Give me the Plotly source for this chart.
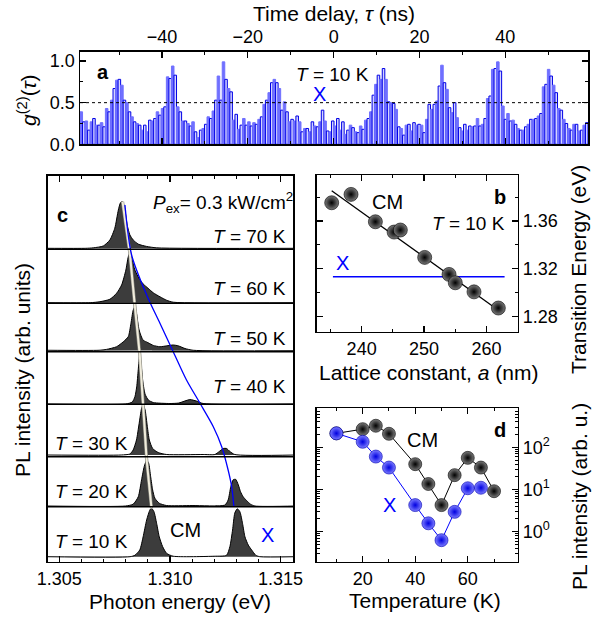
import numpy as np
import plotly.graph_objects as go

W, H = 592, 619
FONT = "Liberation Sans, Arial, sans-serif"
BLUE = "#0000ff"

# ---------------- Panel a : g2(tau) histogram ----------------
g2_values = [
    0.39, 0.27, 0.28, 0.17, 0.27, 0.31, 0.23, 0.23, 0.26, 0.21, 0.43, 0.39, 0.53, 0.67, 0.77, 0.78, 0.71, 0.53, 0.50, 0.39,
    0.33, 0.27, 0.25, 0.23, 0.17, 0.23, 0.15, 0.29, 0.28, 0.31, 0.39, 0.35, 0.43, 0.45, 0.81, 0.79, 0.94, 0.83,
    0.45, 0.39, 0.28, 0.28, 0.25, 0.22, 0.27, 0.15, 0.08, 0.17, 0.19, 0.24, 0.33, 0.31, 0.40, 0.53, 0.82, 0.53, 0.99, 0.78,
    0.67, 0.63, 0.29, 0.36, 0.18, 0.23, 0.31, 0.23, 0.27, 0.22, 0.26, 0.24, 0.30, 0.33, 0.48, 0.53, 0.62, 0.74, 0.78, 0.74,
    0.67, 0.41, 0.51, 0.39,
    0.27, 0.30, 0.28, 0.34, 0.27, 0.15, 0.19, 0.19, 0.15, 0.27, 0.22, 0.21, 0.27, 0.41, 0.28, 0.16, 0.15, 0.28, 0.22, 0.31,
    0.17, 0.27, 0.12, 0.17, 0.23, 0.20, 0.15, 0.14, 0.22, 0.18, 0.29, 0.31, 0.39, 0.59, 0.72, 0.83, 0.78, 0.91, 0.78, 0.51,
    0.50, 0.49, 0.42, 0.21, 0.19,
    0.11, 0.23, 0.24, 0.16, 0.26, 0.23, 0.24, 0.23, 0.14, 0.30, 0.48, 0.42, 0.48, 0.52, 0.70, 0.95, 0.74, 0.66, 0.44, 0.38,
    0.50, 0.32, 0.20, 0.16, 0.24, 0.17, 0.22, 0.21, 0.22, 0.31, 0.22, 0.24, 0.31, 0.55, 0.58, 0.90, 0.91, 0.99, 0.88, 0.46,
    0.30, 0.37, 0.28, 0.29, 0.24, 0.19, 0.17, 0.17,
    0.21, 0.24, 0.30, 0.30, 0.31, 0.34, 0.37, 0.69, 0.72, 0.90, 0.82, 0.71, 0.62, 0.43, 0.41, 0.30, 0.25, 0.19, 0.17, 0.24,
    0.24, 0.16, 0.17, 0.23, 0.26,
]
tau_start, tau_end = -59.1, 59.25

# ---------------- Panel b : transition energy vs lattice constant ----------------
lattice_a = [235.2, 238.3, 242.2, 245.2, 246.2, 250.1, 254.0, 255.0, 258.0, 261.9]
cm_energy = [1.3753, 1.3823, 1.3594, 1.3508, 1.3525, 1.3296, 1.3154, 1.3084, 1.3008, 1.2873]
fit_a = [235.2, 261.9]
fit_E = [1.3854, 1.2855]
x_line_a = [235.4, 262.9]
x_line_E = [1.3134, 1.3134]

# ---------------- Panel d : PL intensity vs temperature ----------------
T_cm = [10, 20, 25, 30, 40, 45, 50, 55, 60, 65, 70]
I_cm = [214, 269, 324, 209, 39.8, 13.5, 4.27, 21.9, 56.2, 33.1, 9.1]
T_x = [10, 20, 25, 30, 40, 45, 50, 55, 60, 65]
I_x = [214, 135, 60.3, 33.1, 4.27, 1.58, 0.63, 2.95, 10.7, 11.0]

# ---------------- Panel c : PL spectra (normalised) ----------------
spec_T = [10, 20, 30, 40, 50, 60, 70]
E10 = [1.3044, 1.3082, 1.30842, 1.30864, 1.30879, 1.30895, 1.30910, 1.30917, 1.30928, 1.30940, 1.30952, 1.30967,
       1.30985, 1.31015, 1.3120, 1.31256, 1.31271, 1.31283, 1.31293, 1.31304, 1.31316, 1.31328, 1.31339, 1.31354,
       1.31369, 1.31388, 1.31406, 1.3157]
I10 = [0, 0, 0.03, 0.14, 0.41, 0.76, 0.97, 1.0, 0.93, 0.69, 0.41, 0.21, 0.07, 0.01, 0.01, 0.03, 0.21, 0.55, 0.9,
       0.99, 0.93, 0.69, 0.41, 0.24, 0.14, 0.03, 0, 0]
E20 = [1.3044, 1.3080, 1.30834, 1.30857, 1.30872, 1.30884, 1.30895, 1.30904, 1.30913, 1.30922, 1.30932, 1.30952,
       1.30985, 1.3110, 1.31248, 1.31263, 1.31275, 1.31286, 1.31297, 1.31309, 1.31319, 1.31331, 1.31346, 1.31364,
       1.31384, 1.3157]
I20 = [0, 0, 0.04, 0.2, 0.57, 0.86, 0.99, 0.93, 0.64, 0.35, 0.17, 0.06, 0.01, 0.01, 0.02, 0.13, 0.42, 0.57, 0.58,
       0.46, 0.31, 0.2, 0.12, 0.04, 0, 0]
E30 = [1.3044, 1.3078, 1.30819, 1.30834, 1.30849, 1.30861, 1.30872, 1.30879, 1.30888, 1.30898, 1.30907, 1.30922,
       1.30947, 1.30985, 1.3115, 1.31203, 1.31223, 1.31241, 1.31256, 1.31271, 1.31293, 1.3157]
I30 = [0, 0, 0.02, 0.1, 0.3, 0.63, 0.93, 1.0, 0.9, 0.57, 0.3, 0.13, 0.05, 0.01, 0.01, 0.01, 0.07, 0.13, 0.13,
       0.07, 0.01, 0]
E40 = [1.3044, 1.3080, 1.30830, 1.30842, 1.30850, 1.30857, 1.30864, 1.30871, 1.30878, 1.30888, 1.30903, 1.30925,
       1.3100, 1.3104, 1.3109, 1.3112, 1.3115, 1.3157]
I40 = [0, 0, 0.04, 0.15, 0.35, 0.7, 1.0, 0.75, 0.45, 0.2, 0.08, 0.03, 0.01, 0.02, 0.09, 0.06, 0.01, 0]
E50 = [1.3044, 1.3068, 1.30714, 1.30759, 1.30789, 1.30812, 1.30824, 1.30834, 1.30842, 1.30849, 1.30861, 1.30879,
       1.30902, 1.30925, 1.30955, 1.30985, 1.31015, 1.31038, 1.31068, 1.31105, 1.3157]
I50 = [0.01, 0.01, 0.03, 0.09, 0.2, 0.32, 0.62, 0.92, 1.0, 0.85, 0.47, 0.24, 0.18, 0.12, 0.09, 0.11, 0.13, 0.11,
       0.05, 0.01, 0]
E60 = [1.3044, 1.3064, 1.30684, 1.30729, 1.30759, 1.30782, 1.30801, 1.30812, 1.30819, 1.30828, 1.30842, 1.30861,
       1.30879, 1.30902, 1.30925, 1.30955, 1.30985, 1.31015, 1.3157]
I60 = [0, 0, 0.02, 0.07, 0.19, 0.36, 0.66, 0.93, 1.0, 0.9, 0.66, 0.49, 0.38, 0.29, 0.2, 0.12, 0.05, 0.01, 0]
E70 = [1.3044, 1.3062, 1.30654, 1.30699, 1.30729, 1.30751, 1.30767, 1.30777, 1.30786, 1.30797, 1.30807, 1.30819,
       1.30834, 1.30857, 1.30895, 1.30940, 1.3157]
I70 = [0, 0, 0.01, 0.05, 0.18, 0.43, 0.82, 0.98, 1.0, 0.82, 0.5, 0.29, 0.18, 0.09, 0.04, 0.01, 0]
spectra_E = [E10, E20, E30, E40, E50, E60, E70]
spectra_I = [I10, I20, I30, I40, I50, I60, I70]
# guide for the X line (energy, stacked level in panel units)
xguide_E = [1.30797, 1.30827, 1.30895, 1.30955, 1.31015, 1.31075, 1.31136, 1.31196, 1.31234, 1.31263, 1.31279, 1.31289]
xguide_level = [356.7, 306.7, 266.7, 238.4, 210, 181.7, 158.4, 135, 115, 91.7, 75, 55]

# stacking layout (panel c units, bottom = 0, top = 386)
stack_offset = [5, 55.7, 106.7, 157.7, 211, 259, 313.4]
stack_height = [48.4, 46, 50, 49, 44, 49.4, 46.6]
dividers = [55, 105, 157.4, 210, 258.4, 312.4]


def xd(a, b):
    return [a / W, b / W]


def yd(top, bottom):
    return [1 - bottom / H, 1 - top / H]


fig = go.Figure()

# ---- panel a bars
n = len(g2_values)
bw = (tau_end - tau_start) / n
tau = tau_start + bw * (np.arange(n) + 0.5)
fills = ["#7070ff" if i % 2 == 0 else "#d4d4ff" for i in range(n)]
edges = ["#7070ff" if i % 2 == 0 else "#0000e6" for i in range(n)]
fig.add_trace(go.Bar(x=tau, y=g2_values, width=bw, marker=dict(color=fills, line=dict(color=edges, width=1)),
                     xaxis="x", yaxis="y"))

# ---- panel c spectra
for Es, Is, off, hgt in zip(spectra_E, spectra_I, stack_offset, stack_height):
    yy = [off + hgt * v for v in Is]
    fig.add_trace(go.Scatter(x=Es, y=yy, mode="lines", fill="toself", fillcolor="#3c3c3c",
                             line=dict(color="black", width=1, shape="spline", smoothing=0.6),
                             xaxis="x2", yaxis="y2"))
cm_peak_E = [Es[int(np.argmax(Is))] for Es, Is in zip(spectra_E, spectra_I)]
cm_peak_y = [off + hgt for off, hgt in zip(stack_offset, stack_height)]
fig.add_trace(go.Scatter(x=cm_peak_E, y=cm_peak_y, mode="lines", line=dict(color="#8a8a80", width=3.2),
                         xaxis="x2", yaxis="y2"))
fig.add_trace(go.Scatter(x=cm_peak_E, y=cm_peak_y, mode="lines", line=dict(color="#f0ecdc", width=2),
                         xaxis="x2", yaxis="y2"))
fig.add_trace(go.Scatter(x=xguide_E, y=xguide_level, mode="lines",
                         line=dict(color=BLUE, width=1.3, shape="spline", smoothing=0.8),
                         xaxis="x2", yaxis="y2"))

# ---- panel b
fig.add_trace(go.Scatter(x=fit_a, y=fit_E, mode="lines", line=dict(color="black", width=1.3),
                         xaxis="x3", yaxis="y3"))
fig.add_trace(go.Scatter(x=x_line_a, y=x_line_E, mode="lines", line=dict(color=BLUE, width=1.5),
                         xaxis="x3", yaxis="y3"))
fig.add_trace(go.Scatter(x=lattice_a, y=cm_energy, mode="markers",
                         marker=dict(size=14, color="#7a7a7a", gradient=dict(type="radial", color="#000000"),
                                     line=dict(color="black", width=0.6)),
                         xaxis="x3", yaxis="y3"))

# ---- panel d
fig.add_trace(go.Scatter(x=T_cm, y=I_cm, mode="lines+markers", line=dict(color="black", width=1),
                         marker=dict(size=13, color="#7a7a7a", gradient=dict(type="radial", color="#000000"),
                                     line=dict(color="black", width=0.6)),
                         xaxis="x4", yaxis="y4"))
fig.add_trace(go.Scatter(x=T_x, y=I_x, mode="lines+markers", line=dict(color=BLUE, width=1),
                         marker=dict(size=13, color="#7c7cff", gradient=dict(type="radial", color="#0000e0"),
                                     line=dict(color="#0000b0", width=0.6)),
                         xaxis="x4", yaxis="y4"))

base = dict(showline=True, linecolor="black", linewidth=1.5, mirror="ticks", ticks="inside", ticklen=6,
            tickwidth=1.2, tickcolor="black", showgrid=False, zeroline=False, automargin=False,
            tickfont=dict(size=18, color="black", family=FONT))
minor = lambda d, **k: dict(ticks="inside", ticklen=3, tickwidth=1, tickcolor="black", dtick=d, **k)

fig.update_layout(
    width=W, height=H, margin=dict(l=0, r=0, t=0, b=0, pad=0, autoexpand=False), showlegend=False,
    plot_bgcolor="white", paper_bgcolor="white", bargap=0, font=dict(family=FONT, color="black"),
    hovermode=False,
    xaxis=dict(base, domain=xd(80, 588), anchor="y", side="top", range=[tau_start, tau_end], dtick=20, tick0=0,
               minor=minor(10, tick0=0)),
    yaxis=dict(base, domain=yd(51.7, 144.3), anchor="x", range=[0, 1.112], tickvals=[0, 0.5, 1.0],
               ticktext=["0.0", "0.5", "1.0"], minor=minor(0.25, tick0=0)),
    xaxis2=dict(base, domain=xd(47.7, 293), anchor="y2", range=[1.30448, 1.31556], dtick=0.005, tick0=1.305,
                tickformat=".3f", minor=minor(0.001, tick0=1.305)),
    yaxis2=dict(base, domain=yd(175.7, 561.7), anchor="x2", range=[0, 386], showticklabels=False, ticks=""),
    xaxis3=dict(base, domain=xd(316.7, 517.7), anchor="y3", range=[232.8, 265.0], dtick=10, tick0=0,
                minor=minor(5, tick0=0)),
    yaxis3=dict(base, domain=yd(175, 331.7), anchor="x3", side="right", range=[1.2675, 1.3985],
                tickvals=[1.28, 1.32, 1.36], ticktext=["1.28", "1.32", "1.36"], minor=minor(0.02, tick0=1.28)),
    xaxis4=dict(base, domain=xd(316.7, 517.7), anchor="y4", range=[2.5, 79.0], dtick=20, tick0=0,
                minor=minor(10, tick0=0)),
    yaxis4=dict(base, domain=yd(408.3, 561.7), anchor="x4", side="right", type="log", range=[-0.711, 2.924],
                tickvals=[1, 10, 100], ticktext=["10<sup>0</sup>", "10<sup>1</sup>", "10<sup>2</sup>"],
                minor=dict(ticks="inside", ticklen=3, tickwidth=1, tickcolor="black", tickmode="array",
                           tickvals=[v * m for m in (0.1, 1, 10, 100) for v in range(2, 10)])),
)

# dotted 0.5 line in panel a
fig.add_shape(type="line", xref="x domain", yref="y", x0=0, x1=1, y0=0.5, y1=0.5,
              line=dict(color="black", width=1, dash="dot"))
# dividers in panel c
for d in dividers:
    fig.add_shape(type="line", xref="x2 domain", yref="y2", x0=0, x1=1, y0=d, y1=d,
                  line=dict(color="black", width=1.5))


def ann(text, x, y, size=19, color="black", xanchor="center", angle=0):
    fig.add_annotation(text=text, x=x / W, y=1 - y / H, xref="paper", yref="paper", showarrow=False,
                       font=dict(size=size, color=color, family=FONT), xanchor=xanchor, yanchor="middle",
                       textangle=angle, borderpad=0)


# axis titles
ann("Time delay, <i>τ</i> (ns)", 334, 13, 21)
ann("<i>g</i><sup>(2)</sup>(<i>τ</i>)", 27, 100, 21, angle=-90)
ann("PL intensity (arb. units)", 22, 370, 21, angle=-90)
ann("Photon energy (eV)", 180, 601, 21)
ann("Lattice constant, <i>a</i> (nm)", 428, 373, 21)
ann("Transition Energy (eV)", 579, 270, 21, angle=-90)
ann("Temperature (K)", 425, 600, 21)
ann("PL intensity (arb. u.)", 579, 497, 21, angle=-90)

# panel a labels
ann("<b>a</b>", 103, 72, 20)
ann("<i>T</i> = 10 K", 332, 74, 19)
ann("X", 319, 94, 20, BLUE)

# panel c labels
ann("<b>c</b>", 62, 215, 20)
ann("<i>P</i><sub>ex</sub>= 0.3 kW/cm<sup>2</sup>", 294, 202, 19, xanchor="right")
for txt, yy in [("70", 236.7), ("60", 288.3), ("50", 338.3), ("40", 386)]:
    ann("<i>T</i> = %s K" % txt, 287, yy, 19, xanchor="right")
for txt, yy in [("30", 443.3), ("20", 491.7), ("10", 541.7)]:
    ann("<i>T</i> = %s K" % txt, 54, yy, 19, xanchor="left")
ann("CM", 185, 530, 20)
ann("X", 267, 535, 20, BLUE)

# panel b labels
ann("CM", 387, 202, 20)
ann("X", 342, 263, 20, BLUE)
ann("<b>b</b>", 500, 197, 20)
ann("<i>T</i> = 10 K", 506, 223, 19, xanchor="right")

# panel d labels
ann("CM", 423, 440, 20)
ann("X", 389, 505, 20, BLUE)
ann("<b>d</b>", 500, 430, 20)

fig.write_html("out.html", config={"displayModeBar": False, "staticPlot": True},
               post_script="document.body.style.margin='0';document.body.style.padding='0';")
